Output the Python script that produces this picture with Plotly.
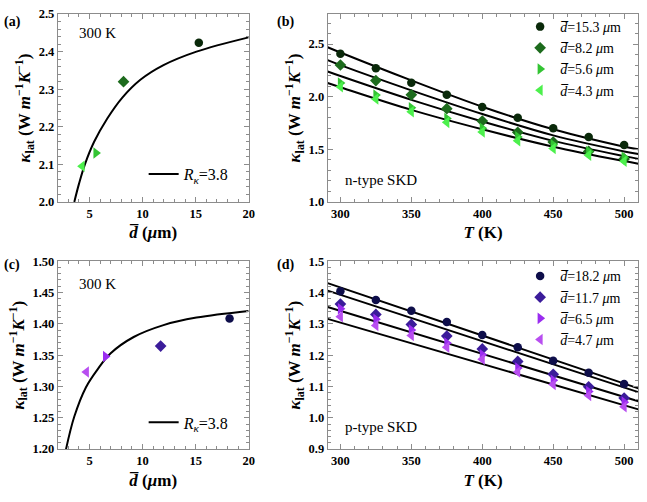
import plotly.graph_objects as go

# ---------------- data ----------------
# (a) n-type, 300 K, kappa vs grain size
a_d = [15.3, 8.2, 5.6, 4.3]
a_k = [2.424, 2.320, 2.130, 2.095]
a_curve_d = [3.56, 4.0, 4.56, 5.43, 6.67, 8.07, 9.79, 11.97, 15.08, 20.0]
a_curve_k = [2.000, 2.048, 2.100, 2.160, 2.222, 2.277, 2.325, 2.364, 2.400, 2.438]

# (b) n-type, kappa vs T
T_pts = [300, 325, 350, 375, 400, 425, 450, 475, 500]
b_labels = ["15.3", "8.2", "5.6", "4.3"]
b_k153 = [2.409, 2.270, 2.132, 2.018, 1.901, 1.800, 1.701, 1.618, 1.541]
b_k82 = [2.301, 2.153, 2.018, 1.886, 1.769, 1.661, 1.569, 1.480, 1.409]
b_k56 = [2.130, 2.015, 1.895, 1.793, 1.700, 1.618, 1.544, 1.480, 1.424]
b_k43 = [2.095, 1.978, 1.858, 1.756, 1.664, 1.581, 1.507, 1.443, 1.387]
b_line_T = [291, 300, 350, 400, 450, 500, 510]
b_line1 = [2.470, 2.420, 2.155, 1.905, 1.690, 1.525, 1.500]
b_line2 = [2.347, 2.300, 2.060, 1.835, 1.632, 1.480, 1.455]
b_line3 = [2.239, 2.196, 1.970, 1.765, 1.580, 1.435, 1.409]
b_line4 = [2.130, 2.090, 1.875, 1.690, 1.525, 1.388, 1.363]

# (c) p-type, 300 K
c_d = [18.2, 11.7, 6.5, 4.7]
c_k = [1.4086, 1.3645, 1.348, 1.323]
c_curve_d = [2.78, 3.56, 4.65, 5.74, 6.99, 9.16, 11.97, 15.08, 20.0]
c_curve_k = [1.200, 1.252, 1.2985, 1.327, 1.353, 1.379, 1.398, 1.410, 1.4206]

# (d) p-type, kappa vs T
d_labels = ["18.2", "11.7", "6.5", "4.7"]
d_k182 = [1.404, 1.376, 1.342, 1.306, 1.264, 1.225, 1.182, 1.144, 1.108]
d_k117 = [1.363, 1.330, 1.298, 1.261, 1.220, 1.180, 1.139, 1.099, 1.063]
d_k65 = [1.348, 1.315, 1.280, 1.239, 1.201, 1.159, 1.120, 1.084, 1.050]
d_k47 = [1.323, 1.295, 1.263, 1.225, 1.187, 1.146, 1.106, 1.071, 1.035]
d_line_T = [291, 510]
d_line1 = [1.430, 1.094]
d_line2 = [1.406, 1.082]
d_line3 = [1.354, 1.053]
d_line4 = [1.316, 1.027]

green = ["#0a290a", "#1d6b1d", "#33c433", "#4cf04c"]
purple = ["#0e0e4a", "#3b1c9a", "#9a2cf0", "#b84ef0"]
symbols = ["circle", "diamond", "triangle-right", "triangle-left"]
msizes = [8.5, 9, 10, 10]

SERIF = "Liberation Serif"
W, H = 647, 502

fig = go.Figure()

def px_x(a, b):
    return [a / W, b / W]

def px_y(top, bottom):
    return [1 - bottom / H, 1 - top / H]

# ---------------- panel (a) ----------------
fig.add_trace(go.Scatter(x=a_curve_d, y=a_curve_k, mode="lines", line=dict(color="black", width=2, shape="spline"),
                         name="<i>R</i><sub><i>κ</i></sub>=3.8", legend="legend3", xaxis="x", yaxis="y"))
for i in range(4):
    fig.add_trace(go.Scatter(x=[a_d[i]], y=[a_k[i]], mode="markers",
                             marker=dict(symbol=symbols[i], color=green[i], size=msizes[i]),
                             showlegend=False, xaxis="x", yaxis="y"))

# ---------------- panel (b) ----------------
for ln in [b_line1, b_line2, b_line3, b_line4]:
    fig.add_trace(go.Scatter(x=b_line_T, y=ln, mode="lines", line=dict(color="black", width=2, shape="spline"),
                             showlegend=False, xaxis="x2", yaxis="y2"))
for i, ser in enumerate([b_k153, b_k82, b_k56, b_k43]):
    fig.add_trace(go.Scatter(x=T_pts, y=ser, mode="markers",
                             marker=dict(symbol=symbols[i], color=green[i], size=msizes[i]),
                             name="<i>d\u0305</i>=" + b_labels[i] + " <i>μ</i>m", legend="legend",
                             xaxis="x2", yaxis="y2"))

# ---------------- panel (c) ----------------
fig.add_trace(go.Scatter(x=c_curve_d, y=c_curve_k, mode="lines", line=dict(color="black", width=2, shape="spline"),
                         name="<i>R</i><sub><i>κ</i></sub>=3.8", legend="legend4", xaxis="x3", yaxis="y3"))
for i in range(4):
    fig.add_trace(go.Scatter(x=[c_d[i]], y=[c_k[i]], mode="markers",
                             marker=dict(symbol=symbols[i], color=purple[i], size=msizes[i]),
                             showlegend=False, xaxis="x3", yaxis="y3"))

# ---------------- panel (d) ----------------
for ln in [d_line1, d_line2, d_line3, d_line4]:
    fig.add_trace(go.Scatter(x=d_line_T, y=ln, mode="lines", line=dict(color="black", width=2),
                             showlegend=False, xaxis="x4", yaxis="y4"))
for i, ser in enumerate([d_k182, d_k117, d_k65, d_k47]):
    fig.add_trace(go.Scatter(x=T_pts, y=ser, mode="markers",
                             marker=dict(symbol=symbols[i], color=purple[i], size=msizes[i]),
                             name="<i>d\u0305</i>=" + d_labels[i] + " <i>μ</i>m", legend="legend2",
                             xaxis="x4", yaxis="y4"))

FRAME = "#8c8c8c"
tickfont = dict(family=SERIF, size=12.5, color="black", weight="bold")
titlefont = dict(family=SERIF, size=17, color="black", weight="bold")

def axis(domain, rng, dtick, mdtick, anchor, title, fmt=None, standoff=4):
    d = dict(domain=domain, range=rng, dtick=dtick, tick0=0, anchor=anchor,
             showline=True, linecolor=FRAME, linewidth=1, mirror="allticks",
             ticks="inside", ticklen=5, tickcolor=FRAME, tickwidth=1,
             minor=dict(ticks="inside", ticklen=3, dtick=mdtick, tick0=0, tickcolor=FRAME, showgrid=False),
             showgrid=False, zeroline=False, tickfont=tickfont,
             title=dict(text=title, font=titlefont, standoff=standoff))
    if fmt:
        d["tickformat"] = fmt
    return d

ytitle = "<i>κ</i><sub>lat</sub> (W <i>m</i><sup>−1</sup><i>K</i><sup>−1</sup>)"
dtitle = "<i>d\u0305</i> (<i>μ</i>m)"
ttitle = "<i>T</i> (K)"

xa = px_x(58.3, 251)
xb = px_x(330.7, 644.3)
ytop = px_y(7.3, 200.5)
ybot = px_y(261.5, 454.8)

legfont = dict(family=SERIF, size=14, color="black")
fig.update_layout(
    width=W, height=H, margin=dict(l=0, r=0, t=0, b=0),
    paper_bgcolor="white", plot_bgcolor="white",
    font=dict(family=SERIF, color="black"),
    xaxis=axis(xa, [2, 20], 5, 1, "y", dtitle, standoff=6),
    yaxis=axis(ytop, [2.0, 2.5], 0.1, 0.02, "x", ytitle, ".1f", standoff=3),
    xaxis2=axis(xb, [291, 510], 50, 10, "y2", ttitle, standoff=6),
    yaxis2=axis(ytop, [1.0, 2.785], 0.5, 0.1, "x2", ytitle, ".1f", standoff=3),
    xaxis3=axis(xa, [2, 20], 5, 1, "y3", dtitle, standoff=6),
    yaxis3=axis(ybot, [1.2, 1.5], 0.05, 0.01, "x3", ytitle, ".2f", standoff=3),
    xaxis4=axis(xb, [291, 510], 50, 10, "y4", ttitle, standoff=6),
    yaxis4=axis(ybot, [0.9, 1.5], 0.1, 0.02, "x4", ytitle, ".1f", standoff=3),
    legend=dict(x=525 / W, y=1 - 53 / H, xanchor="left", yanchor="middle", bgcolor="rgba(0,0,0,0)",
                font=legfont, itemwidth=30, tracegroupgap=0),
    legend2=dict(x=525 / W, y=1 - 309.5 / H, xanchor="left", yanchor="middle", bgcolor="rgba(0,0,0,0)",
                 font=legfont, itemwidth=30, tracegroupgap=0),
    legend3=dict(x=145 / W, y=1 - 172 / H, xanchor="left", yanchor="middle", bgcolor="rgba(0,0,0,0)",
                 font=dict(family=SERIF, size=16, color="black"), itemwidth=30),
    legend4=dict(x=145 / W, y=1 - 427.3 / H, xanchor="left", yanchor="middle", bgcolor="rgba(0,0,0,0)",
                 font=dict(family=SERIF, size=16, color="black"), itemwidth=30),
    showlegend=True,
)

ann_font = dict(family=SERIF, size=15, color="black")
lab_font = dict(family=SERIF, size=14, color="black", weight="bold")
annotations = [
    dict(text="(a)", x=2 / W, y=1 - 15 / H, xref="paper", yref="paper", xanchor="left", yanchor="middle", showarrow=False, font=lab_font),
    dict(text="(b)", x=278 / W, y=1 - 15 / H, xref="paper", yref="paper", xanchor="left", yanchor="middle", showarrow=False, font=lab_font),
    dict(text="(c)", x=2 / W, y=1 - 265 / H, xref="paper", yref="paper", xanchor="left", yanchor="middle", showarrow=False, font=lab_font),
    dict(text="(d)", x=278 / W, y=1 - 265 / H, xref="paper", yref="paper", xanchor="left", yanchor="middle", showarrow=False, font=lab_font),
    dict(text="300 K", x=0.10, y=0.898, xref="x domain", yref="y domain", xanchor="left", yanchor="middle", showarrow=False, font=ann_font),
    dict(text="300 K", x=0.10, y=0.881, xref="x3 domain", yref="y3 domain", xanchor="left", yanchor="middle", showarrow=False, font=ann_font),
    dict(text="n-type SKD", x=0.049, y=0.119, xref="x2 domain", yref="y2 domain", xanchor="left", yanchor="middle", showarrow=False, font=ann_font),
    dict(text="p-type SKD", x=0.049, y=0.118, xref="x4 domain", yref="y4 domain", xanchor="left", yanchor="middle", showarrow=False, font=ann_font),
]
fig.update_layout(annotations=annotations)

fig.write_html("out.html")
